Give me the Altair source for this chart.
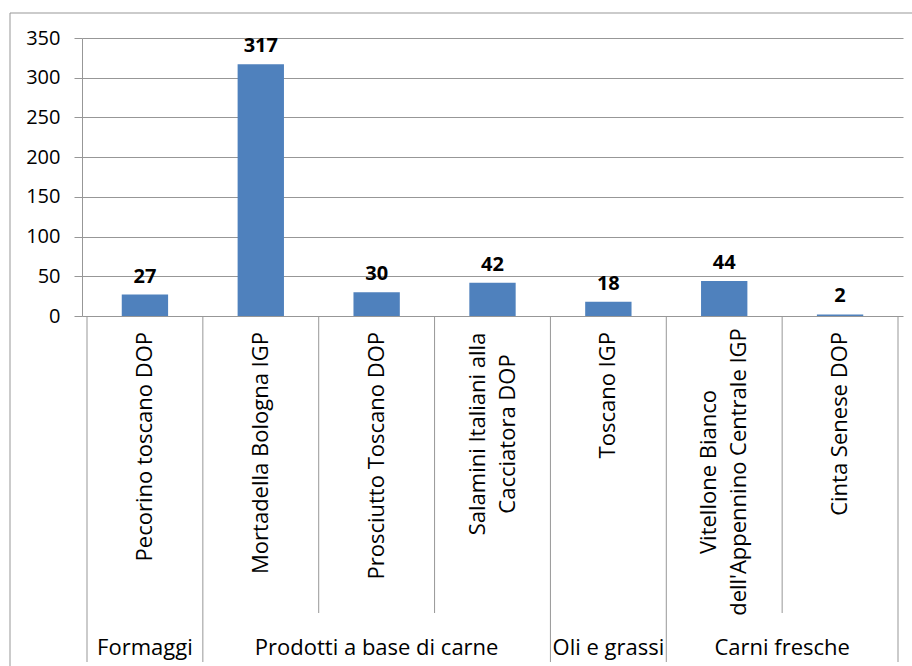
import altair as alt
import pandas as pd

# ---- data ----
categories = [
    "Pecorino toscano DOP",
    "Mortadella Bologna IGP",
    "Prosciutto Toscano DOP",
    "Salamini Italiani alla Cacciatora DOP",
    "Toscano IGP",
    "Vitellone Bianco dell'Appennino Centrale IGP",
    "Cinta Senese DOP",
]
label_lines = [
    ["Pecorino toscano DOP"],
    ["Mortadella Bologna IGP"],
    ["Prosciutto Toscano DOP"],
    ["Salamini Italiani alla", "Cacciatora DOP"],
    ["Toscano IGP"],
    ["Vitellone Bianco", "dell'Appennino Centrale IGP"],
    ["Cinta Senese DOP"],
]
groups = [
    "Formaggi",
    "Prodotti a base di carne",
    "Prodotti a base di carne",
    "Prodotti a base di carne",
    "Oli e grassi",
    "Carni fresche",
    "Carni fresche",
]
values = [27, 317, 30, 42, 18, 44, 2]
y_ticks = [0, 50, 100, 150, 200, 250, 300, 350]

# ---- layout (pixels) ----
W, H = 821, 278
LEFT, TOP = 82, 38
GRID = "#979797"
BAR = "#4F81BD"
FONT = "Open Sans"
n = len(categories)

df = pd.DataFrame({"cat": categories, "group": groups, "value": values})
df["i"] = range(n)
df["x0"] = df["i"] + 0.3
df["x1"] = df["i"] + 0.7
df["xc"] = df["i"] + 0.5
df["label"] = ["\n".join(l) for l in label_lines]
df["nlines"] = [len(l) for l in label_lines]

# group spans
g_rows = []
for g in dict.fromkeys(groups):
    idx = [k for k, gg in enumerate(groups) if gg == g]
    g_rows.append({"group": g, "start": min(idx), "end": max(idx) + 1})
gdf = pd.DataFrame(g_rows)
gdf["xc"] = (gdf["start"] + gdf["end"]) / 2

# separators
group_bounds = sorted(set(gdf["start"]).union(set(gdf["end"])))
inner_bounds = [k for k in range(n) if k not in group_bounds]
sep_group = pd.DataFrame({"pos": group_bounds})
sep_inner = pd.DataFrame({"pos": inner_bounds})

xscale = alt.Scale(domain=[0, n], nice=False, zero=False)
yscale = alt.Scale(domain=[0, 350], nice=False, padding=0)

y_axis = alt.Axis(
    values=y_ticks,
    grid=True,
    gridColor=GRID,
    gridWidth=1,
    domain=True,
    domainColor=GRID,
    ticks=True,
    tickColor=GRID,
    tickSize=8,
    labelFont=FONT,
    labelFontSize=20,
    labelColor="black",
    labelPadding=14,
    labelOverlap=False,
    title=None,
)

base = alt.Chart(df)

bars = base.mark_bar(color=BAR, orient="vertical").encode(
    x=alt.X("x0:Q", scale=xscale, axis=None),
    x2="x1:Q",
    y=alt.Y("value:Q", scale=yscale, axis=y_axis),
    y2=alt.datum(0),
)

value_labels = base.mark_text(
    font=FONT, fontSize=20, fontWeight="bold", color="black",
    baseline="alphabetic", dy=-12,
).encode(
    x=alt.X("xc:Q", scale=xscale, axis=None),
    y=alt.Y("value:Q", scale=yscale, axis=y_axis),
    text="value:Q",
)

single_labels = base.transform_filter("datum.nlines == 1").mark_text(
    font=FONT, fontSize=22, color="black", angle=270,
    align="right", baseline="middle",
).encode(
    x=alt.X("xc:Q", scale=xscale, axis=None),
    y=alt.value(332 - TOP),
    text="label:N",
)

# centre (px) of each two-line label block, as in the reference layout
multi_centre = {3: 434, 5: 472}
multi_layers = []
for k, yc in multi_centre.items():
    multi_layers.append(
        base.transform_filter(f"datum.i == {k}").mark_text(
            font=FONT, fontSize=22, color="black", angle=270,
            align="center", baseline="middle", lineBreak="\n", lineHeight=30,
            dy=-15,
        ).encode(
            x=alt.X("xc:Q", scale=xscale, axis=None),
            y=alt.value(yc - TOP),
            text="label:N",
        )
    )

group_labels = alt.Chart(gdf).mark_text(
    font=FONT, fontSize=22, color="black", align="center", baseline="alphabetic",
).encode(
    x=alt.X("xc:Q", scale=xscale, axis=None),
    y=alt.value(655 - TOP),
    text="group:N",
)

rules_group = alt.Chart(sep_group).mark_rule(color=GRID, strokeWidth=1).encode(
    x=alt.X("pos:Q", scale=xscale, axis=None),
    y=alt.value(H),
    y2=alt.value(662 - TOP),
)
rules_inner = alt.Chart(sep_inner).mark_rule(color=GRID, strokeWidth=1).encode(
    x=alt.X("pos:Q", scale=xscale, axis=None),
    y=alt.value(H),
    y2=alt.value(613 - TOP),
)

frame = alt.Chart(pd.DataFrame({"a": [0]})).mark_rect(
    filled=False, stroke=GRID, strokeWidth=1
).encode(
    x=alt.value(10 - LEFT),
    x2=alt.value(960 - LEFT),
    y=alt.value(13 - TOP),
    y2=alt.value(720 - TOP),
)

chart = alt.layer(
    bars, frame, rules_group, rules_inner, value_labels, single_labels,
    *multi_layers, group_labels,
).properties(
    width=W,
    height=H,
    autosize=alt.AutoSizeParams(type="none"),
    padding={"left": LEFT, "top": TOP, "right": 912 - LEFT - W, "bottom": 666 - TOP - H},
    background="white",
).configure_view(stroke=None)

chart.save("out.html", embed_options={"renderer": "svg", "actions": False})
